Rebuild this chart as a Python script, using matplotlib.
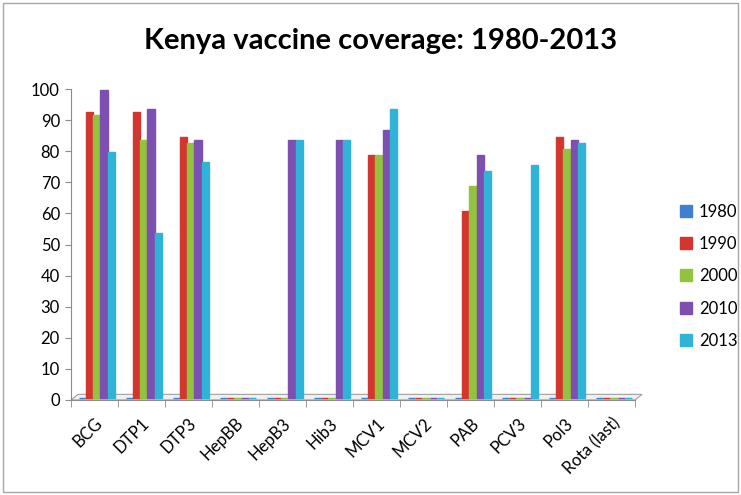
import matplotlib
matplotlib.use("Agg")
import matplotlib.pyplot as plt
from matplotlib.patches import Polygon, Rectangle
from matplotlib.lines import Line2D
import numpy as np

plt.rcParams['font.family'] = ['Lato', 'DejaVu Sans']

# vaccine categories on the x axis
vaccines = ["BCG", "DTP1", "DTP3", "HepBB", "HepB3", "Hib3",
            "MCV1", "MCV2", "PAB", "PCV3", "Pol3", "Rota (last)"]

# coverage (%) per year
cov_1980 = [0, 0, 0, 0, 0, 0, 0, 0, 0, 0, 0, 0]
cov_1990 = [92, 92, 84, 0, 0, 0, 78, 0, 60, 0, 84, 0]
cov_2000 = [91, 83, 82, 0, 0, 0, 78, 0, 68, 0, 80, 0]
cov_2010 = [99, 93, 83, 0, 83, 83, 86, 0, 78, 0, 83, 0]
cov_2013 = [79, 53, 76, 0, 83, 83, 93, 0, 73, 75, 82, 0]

years = ["1980", "1990", "2000", "2010", "2013"]
series = [cov_1980, cov_1990, cov_2000, cov_2010, cov_2013]
colors = ["#3f7fd0", "#d2362f", "#93c23e", "#7d4fb0", "#2fb3d6"]

fig = plt.figure(figsize=(7.41, 4.95), dpi=100)
ax = fig.add_axes([0.0958, 0.192, 0.857 - 0.0958, 0.820 - 0.192])

# outer chart frame
fig.patches.append(Rectangle((0.004, 0.006), 0.992, 0.988, transform=fig.transFigure,
                             fill=False, edgecolor="#a6a6a6", linewidth=1))

# bars sit slightly up on the 3d floor
lift = 0.7
x = np.arange(len(vaccines))
w = 0.155
for i in range(len(series)):
    offs = (i - 2) * w + 0.05
    ax.bar(x + offs, series[i], width=w, bottom=lift, color=colors[i],
           edgecolor=colors[i], linewidth=1.0, zorder=3)

# flat 3d-looking floor
floor = Polygon([(-0.5, 0), (11.5, 0), (11.65, 1.8), (-0.35, 1.8)],
                closed=True, facecolor="#f0f0f0", edgecolor="#a0a0a0",
                linewidth=0.8, zorder=2, clip_on=False)
ax.add_patch(floor)

ax.set_xlim(-0.5, 11.5)
ax.set_ylim(0, 100)
ax.set_yticks(range(0, 101, 10))
ax.tick_params(axis="y", labelsize=12, length=4, color="#8c8c8c", pad=4)

ax.set_xticks(x)
ax.set_xticklabels(vaccines, rotation=45, ha="right", rotation_mode="anchor", fontsize=12)
ax.set_xticks(np.arange(-0.5, 12, 1), minor=True)
ax.tick_params(axis="x", which="major", length=0, pad=11)
ax.tick_params(axis="x", which="minor", length=5, color="#8c8c8c")

for s in ["top", "right"]:
    ax.spines[s].set_visible(False)
ax.spines["left"].set_color("#8c8c8c")
ax.spines["bottom"].set_color("#8c8c8c")

fig.text(0.513, 0.918, "Kenya vaccine coverage: 1980-2013", ha="center", va="center",
         fontsize=21, fontweight="bold")

handles = [Line2D([], [], marker="s", linestyle="none", markersize=8,
                  markerfacecolor=c, markeredgecolor=c) for c in colors]
fig.legend(handles, years, loc="center left", bbox_to_anchor=(0.905, 0.442),
           frameon=False, fontsize=12, labelspacing=0.98, handlelength=0.8,
           handletextpad=0.4, borderpad=0)

fig.savefig("out.png", dpi=100)
